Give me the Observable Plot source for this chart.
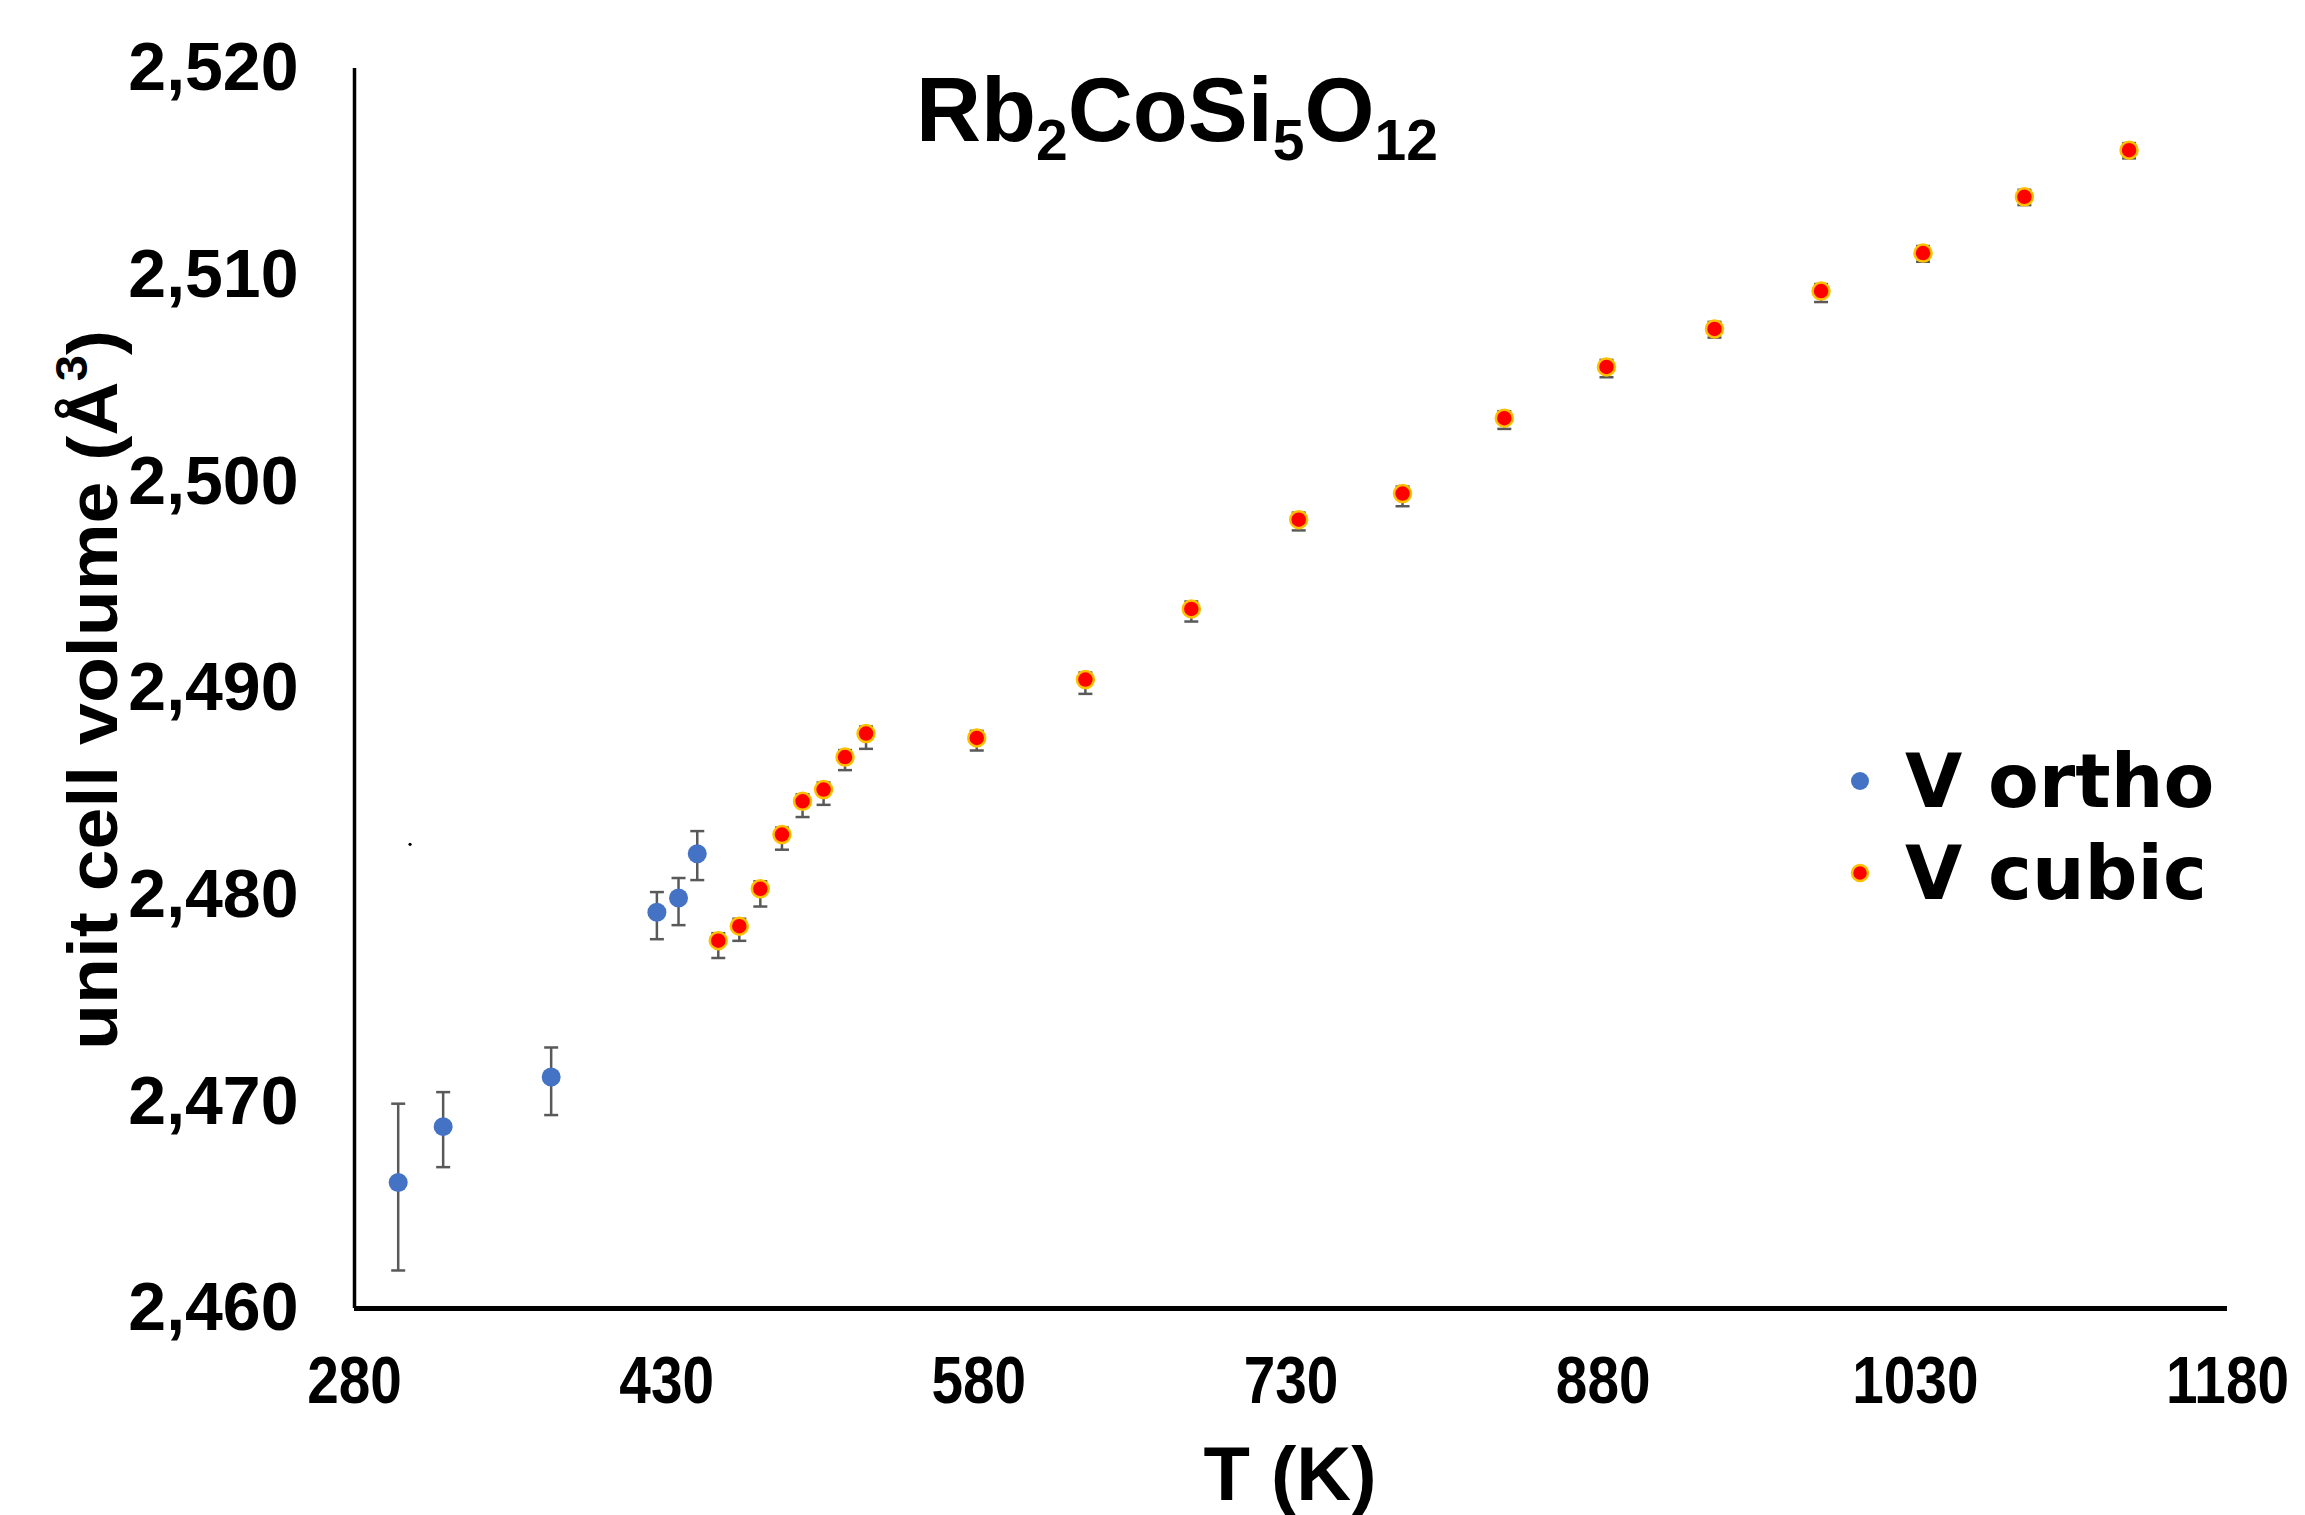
<!DOCTYPE html>
<html>
<head>
<meta charset="utf-8">
<script src="https://cdn.jsdelivr.net/npm/d3@7"></script>
<script src="https://cdn.jsdelivr.net/npm/@observablehq/plot@0.6"></script>
<style>
  html, body { margin: 0; padding: 0; background: #ffffff; }
  #chart svg { display: block; }
</style>
</head>
<body>
<div id="chart"></div>
<script>
// ---- data ----
const orthoT  = [301.0, 322.6, 374.5, 425.3, 435.7, 444.7];
const orthoV  = [2466.10, 2468.80, 2471.20, 2479.17, 2479.86, 2482.00];
const orthoLo = [2461.84, 2466.84, 2469.36, 2477.87, 2478.55, 2480.73];
const orthoHi = [2469.91, 2470.47, 2472.63, 2480.15, 2480.83, 2483.10];

const cubicT = [454.8, 464.9, 475.0, 485.4, 495.3, 505.4, 515.7, 525.8, 579.0, 631.2,
                682.1, 733.7, 783.6, 832.5, 881.6, 933.5, 984.7, 1033.7, 1082.4, 1132.7];
const cubicV = [2477.80, 2478.50, 2480.31, 2482.93, 2484.54, 2485.11, 2486.68, 2487.82, 2487.61, 2490.43,
                2493.85, 2498.17, 2499.43, 2503.08, 2505.56, 2507.40, 2509.23, 2511.07, 2513.79, 2516.05];
const cubicErrDown = [0.84, 0.71, 0.86, 0.73, 0.76, 0.74, 0.63, 0.74, 0.61, 0.69,
                      0.61, 0.52, 0.61, 0.52, 0.50, 0.42, 0.53, 0.42, 0.40, 0.40];
const cubicErrUp   = [0.36, 0.36, 0.36, 0.34, 0.34, 0.34, 0.34, 0.34, 0.34, 0.34,
                      0.36, 0.34, 0.34, 0.34, 0.34, 0.34, 0.34, 0.34, 0.34, 0.34];

const strayT = [306.7];
const strayV = [2482.46];

const xTicks = [280, 430, 580, 730, 880, 1030, 1180];
const yTicks = [2460, 2470, 2480, 2490, 2500, 2510, 2520];

const seriesNames = ["V ortho", "V cubic"];
const seriesFill = ["#4472C4", "#FF0000"];
const seriesStroke = ["none", "#FFC000"];

// ---- tables ----
const ortho = orthoT.map((t, i) => ({t, v: orthoV[i], lo: orthoLo[i], hi: orthoHi[i]}));
const cubic = cubicT.map((t, i) => ({t, v: cubicV[i], lo: cubicV[i] - cubicErrDown[i], hi: cubicV[i] + cubicErrUp[i]}));
const stray = strayT.map((t, i) => ({t, v: strayV[i]}));

const cap = { draw(context, size) { const h = Math.sqrt(size / Math.PI); context.moveTo(-h, 0); context.lineTo(h, 0); } };

const FONT = "'Liberation Sans', Arial, Helvetica, sans-serif";
const barColor = "#595959";

const W = 2305, H = 1515;
const plot = Plot.plot({
  width: W, height: H,
  marginLeft: 354, marginRight: 78, marginTop: 68, marginBottom: 207,
  style: { fontFamily: FONT, background: "#ffffff", overflow: "visible" },
  x: { domain: [280, 1180], label: null },
  y: { domain: [2460, 2520], label: null },
  marks: [
    Plot.axisX({ ticks: xTicks, tickSize: 0, tickPadding: 48, tickFormat: d3.format("d"), label: null, fontSize: 66, fontWeight: "bold" }),
    Plot.axisY({ ticks: yTicks, tickSize: 0, tickPadding: 56, tickFormat: d3.format(","), label: null, fontSize: 68, fontWeight: "bold" }),
    Plot.ruleY([2460], { stroke: "#000", strokeWidth: 5 }),
    Plot.ruleX([280], { stroke: "#000", strokeWidth: 3.5 }),
    Plot.dot(stray, { x: "t", y: "v", r: 1.6, fill: "#000" }),
    // error bars
    Plot.ruleX(ortho, { x: "t", y1: "lo", y2: "hi", stroke: barColor, strokeWidth: 2.5 }),
    Plot.dot(ortho, { x: "t", y: "lo", symbol: cap, r: 7, stroke: barColor, strokeWidth: 2.5, fill: "none" }),
    Plot.dot(ortho, { x: "t", y: "hi", symbol: cap, r: 7, stroke: barColor, strokeWidth: 2.5, fill: "none" }),
    Plot.ruleX(cubic, { x: "t", y1: "lo", y2: "hi", stroke: barColor, strokeWidth: 2.5 }),
    Plot.dot(cubic, { x: "t", y: "lo", symbol: cap, r: 7, stroke: barColor, strokeWidth: 2.5, fill: "none" }),
    Plot.dot(cubic, { x: "t", y: "hi", symbol: cap, r: 7, stroke: barColor, strokeWidth: 2.5, fill: "none" }),
    // markers
    Plot.dot(ortho, { x: "t", y: "v", r: 9.5, fill: seriesFill[0], stroke: "none" }),
    Plot.dot(cubic, { x: "t", y: "v", r: 8.5, fill: seriesFill[1], stroke: seriesStroke[1], strokeWidth: 2.5 })
  ]
});
document.getElementById("chart").appendChild(plot);

const svg = d3.select(plot);
svg.selectAll('g[aria-label="x-axis tick label"], g[aria-label="y-axis tick label"]')
   .attr("fill", "#000").attr("font-weight", "bold").attr("font-family", FONT);
svg.selectAll('g[aria-label="y-axis tick label"]').attr("font-size", 68);
svg.selectAll('g[aria-label="x-axis tick label"]').attr("font-size", 66);
svg.selectAll('g[aria-label="x-axis tick label"] text').each(function() {
  const tr = this.getAttribute("transform") || "";
  this.setAttribute("transform", tr + " scale(0.86,1)");
});

// title with subscripts
const title = svg.append("text").attr("x", 1177).attr("y", 141).attr("text-anchor", "middle")
  .attr("font-family", FONT).attr("font-weight", "bold").attr("font-size", 90).attr("fill", "#000");
const titleParts = [["Rb", 0], ["2", 1], ["CoSi", 0], ["5", 1], ["O", 0], ["12", 1]];
let prevSub = 0;
titleParts.forEach(([s, sub]) => {
  const ts = title.append("tspan").text(s);
  if (sub) ts.attr("font-size", 57);
  const dy = (sub ? 19 : 0) - (prevSub ? 19 : 0);
  if (dy) ts.attr("dy", dy);
  prevSub = sub;
});

// y-axis label
const yl = svg.append("text").attr("transform", "translate(117,690) rotate(-90)").attr("text-anchor", "middle")
  .attr("font-family", FONT).attr("font-weight", "bold").attr("font-size", 70).attr("fill", "#000")
  .attr("textLength", 720).attr("lengthAdjust", "spacingAndGlyphs");
yl.append("tspan").text("unit cell volume (Å");
yl.append("tspan").text("3").attr("font-size", 44).attr("dy", -30);
yl.append("tspan").text(")").attr("dy", 30);

// x-axis label
svg.append("text").attr("x", 1290).attr("y", 1500).attr("text-anchor", "middle")
  .attr("font-family", FONT).attr("font-weight", "bold").attr("font-size", 76).attr("fill", "#000")
  .text("T (K)");

// legend
const LFONT = "'DejaVu Sans', Verdana, sans-serif";
const legY = [781, 873];
seriesNames.forEach((name, i) => {
  svg.append("circle").attr("cx", 1860).attr("cy", legY[i]).attr("r", i ? 8 : 9)
    .attr("fill", seriesFill[i]).attr("stroke", seriesStroke[i]).attr("stroke-width", 2.5);
  svg.append("text").attr("x", 1905).attr("y", legY[i] + 26).attr("text-anchor", "start")
    .attr("font-family", LFONT).attr("font-weight", "bold").attr("font-size", 74).attr("fill", "#000")
    .text(name);
});
</script>
</body>
</html>
